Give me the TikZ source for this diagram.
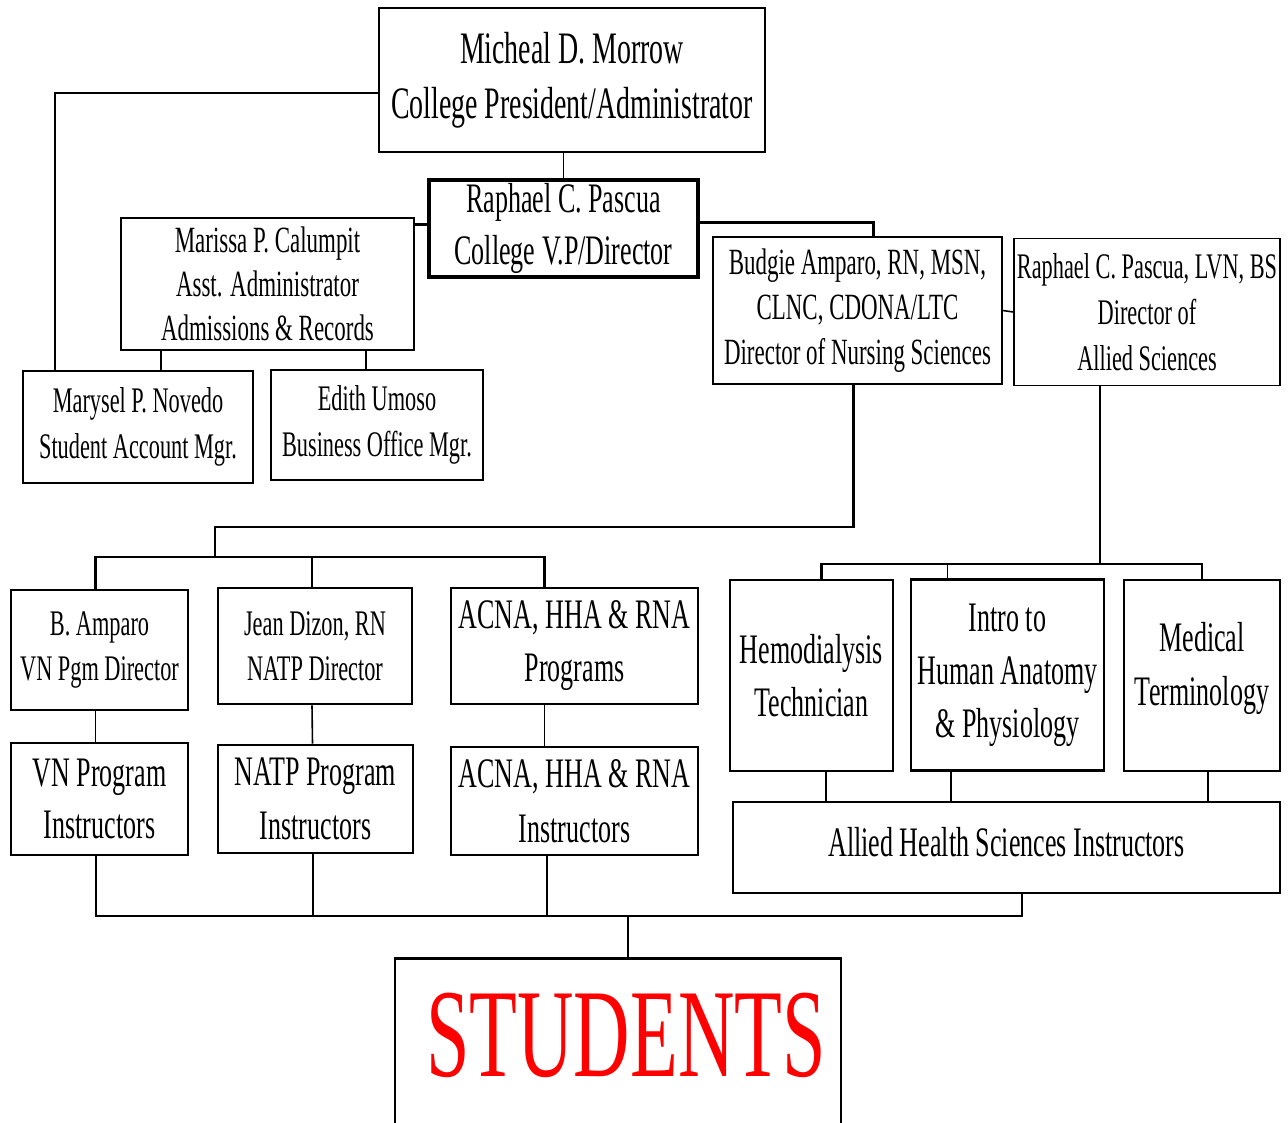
\documentclass[tikz,border=0pt]{standalone}
\usepackage{fontspec}
\setmainfont{Liberation Serif}[FakeStretch=0.62]
\newcommand\fsz[2]{\fontsize{#1}{#2}\selectfont}
\tikzset{
  box/.style={draw,line width=1.4pt,align=center,inner sep=0pt},
  boldbox/.style={box,line width=2.6pt},
  vpbox/.style={box,line width=3.6pt},
  conn/.style={line width=1.6pt},
  bconn/.style={line width=2.8pt},
}
\begin{document}
\begin{tikzpicture}[x=1pt,y=-1pt]
  \useasboundingbox[fill=white](0,0) rectangle (1288,1122);
  \clip (0,0) rectangle (1288,1122);
  % top of the chart
  \node[box,minimum width=386,minimum height=144,font=\fsz{45}{55}](pres) at (572,80)
    {Micheal D. Morrow\\College President/Administrator};
  \node[vpbox,minimum width=269,minimum height=97,font=\fsz{42}{52}](vp) at (563.5,228.5)
    {Raphael C. Pascua\\College V.P/Director};
  \node[box,minimum width=293,minimum height=132,font=\fsz{37}{44}](marissa) at (267.5,284)
    {Marissa P. Calumpit\\Asst. Administrator\\Admissions \& Records};
  \node[box,minimum width=230,minimum height=112,font=\fsz{36}{46}](marysel) at (138,427)
    {Marysel P. Novedo\\Student Account Mgr.};
  \node[box,minimum width=212,minimum height=110,font=\fsz{36}{46}](edith) at (377,425)
    {Edith Umoso\\Business Office Mgr.};
  \node[box,minimum width=289,minimum height=147,font=\fsz{37}{45}](budgie) at (857.5,310.5)
    {Budgie Amparo, RN, MSN,\\CLNC, CDONA/LTC\\Director of Nursing Sciences};
  \node[box,minimum width=266,minimum height=147,font=\fsz{36}{46}](raphael) at (1147,312)
    {Raphael C. Pascua, LVN, BS\\Director of\\Allied Sciences};
  % nursing programs
  \node[boldbox,minimum width=177,minimum height=120,font=\fsz{36}{45}](bamparo) at (99.5,650)
    {B. Amparo\\VN Pgm Director};
  \node[boldbox,minimum width=194,minimum height=116,font=\fsz{36}{45}](jean) at (315,646)
    {Jean Dizon, RN\\NATP Director};
  \node[boldbox,minimum width=247,minimum height=116,font=\fsz{42}{53}](acnap) at (574.5,646)
    {ACNA, HHA \& RNA\\Programs};
  \node[boldbox,minimum width=177,minimum height=112,font=\fsz{42}{52}](vninst) at (99.5,799)
    {VN Program\\Instructors};
  \node[boldbox,minimum width=195,minimum height=108,font=\fsz{42}{54}](natpinst) at (315.5,799)
    {NATP Program\\Instructors};
  \node[boldbox,minimum width=247,minimum height=108,font=\fsz{42}{55}](acnai) at (574.5,801)
    {ACNA, HHA \& RNA\\Instructors};
  % allied programs
  \node[boldbox,minimum width=163,minimum height=191,font=\fsz{42}{53}](hemo) at (811.5,675.5)
    {Hemodialysis\\Technician};
  \node[boldbox,minimum width=193,minimum height=191,font=\fsz{42}{53}](intro) at (1007.5,675)
    {Intro to\\Human Anatomy\\\& Physiology};
  \node[boldbox,minimum width=156,minimum height=191,font=\fsz{42}{54}](medic) at (1202,675.5)
    {Medical\\Terminology\\[-30pt]\mbox{}};
  \node[boldbox,minimum width=547,minimum height=91,font=\fsz{42}{52}](alliedi) at (1006.5,847.5)
    {Allied Health Sciences Instructors\\[-40pt]\mbox{}};
  % students
  \node[boldbox,minimum width=446,minimum height=220,anchor=north](students) at (618,957) {};
  \node[text=red,font=\fsz{126}{130}](studtext) at (626,1035) {STUDENTS};
  \coordinate (nurse) at (215,527);
  \coordinate (nbus) at (215,557);
  \coordinate (abus) at (1100,564);
  \coordinate (sbus) at (628,916);
  % connectors
  \draw[conn] (pres.south -| vp.north) -- (vp.north);
  \draw[conn] ([yshift=-13]pres.west) -| ([xshift=-83]marysel.north);
  \draw[bconn] ([yshift=4]vp.west) -- ([yshift=4]vp.west -| marissa.east);
  \draw[bconn] ([yshift=6]vp.east) -| ([xshift=16]budgie.north);
  \draw[conn] ([xshift=23]marysel.north) -- ([xshift=23]marysel.north |- marissa.south);
  \draw[conn] ([xshift=-11]edith.north) -- ([xshift=-11]edith.north |- marissa.south);
  \draw[conn] (budgie.east) -- (raphael.west);
  \draw[bconn] ([xshift=-4]budgie.south) |- (nurse) -- (nbus);
  \draw[bconn] ([xshift=-4]bamparo.north) |- ([xshift=-30]acnap.north |- nbus) -- ([xshift=-30]acnap.north);
  \draw[conn] ([xshift=-3]jean.north) -- ([xshift=-3]jean.north |- nbus);
  \draw[bconn] ([xshift=-47]raphael.south) -- (abus);
  \draw[bconn] ([xshift=10]hemo.north) |- ([xshift=0]medic.north |- abus) -- (medic.north);
  \draw[conn] ([xshift=-60]intro.north) -- ([xshift=-60]intro.north |- abus);
  \draw[conn] ([xshift=-4]bamparo.south) -- ([xshift=-4]vninst.north);
  \draw[conn] ([xshift=-3]jean.south) -- ([xshift=-3]natpinst.north);
  \draw[conn] ([xshift=-30]acnap.south) -- ([xshift=-30]acnai.north);
  \draw[conn] ([xshift=14.5]hemo.south) -- ([xshift=14.5]hemo.south |- alliedi.north);
  \draw[conn] ([xshift=-56.5]intro.south) -- ([xshift=-56.5]intro.south |- alliedi.north);
  \draw[conn] ([xshift=6]medic.south) -- ([xshift=6]medic.south |- alliedi.north);
  \draw[bconn] ([xshift=-3.5]vninst.south) |- ([xshift=15.5]alliedi.south |- sbus) -- ([xshift=15.5]alliedi.south);
  \draw[conn] ([xshift=-2.5]natpinst.south) -- ([xshift=-2.5]natpinst.south |- sbus);
  \draw[conn] ([xshift=-27.5]acnai.south) -- ([xshift=-27.5]acnai.south |- sbus);
  \draw[conn] (sbus) -- (sbus |- students.north);
\end{tikzpicture}
\end{document}
